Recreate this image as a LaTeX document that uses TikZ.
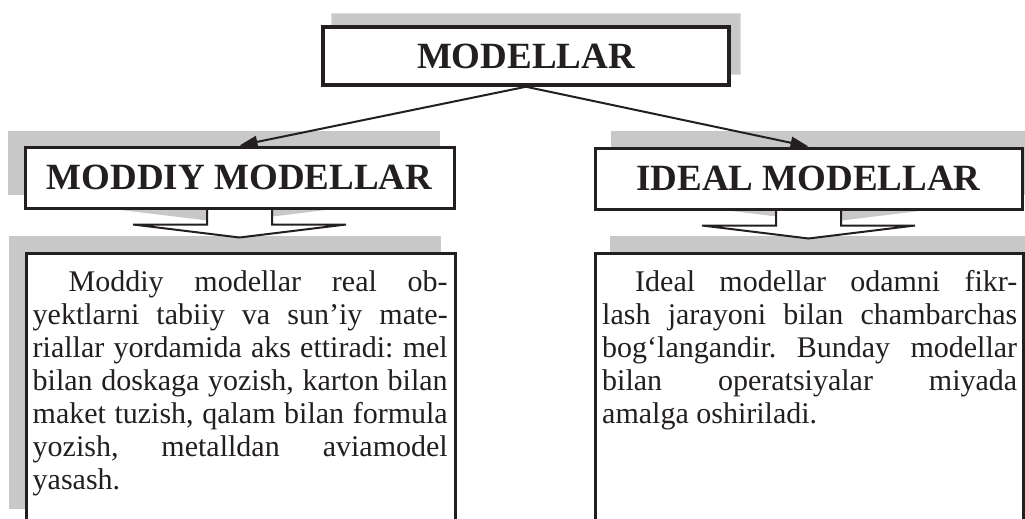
\documentclass[tikz,border=0pt]{standalone}
\usepackage{fontspec}
\setmainfont{Liberation Serif}
\usetikzlibrary{arrows.meta,backgrounds}
\definecolor{ink}{RGB}{35,31,32}
\definecolor{shadowgray}{RGB}{200,200,200}
\definecolor{shadowedge}{RGB}{222,222,222}
\newcommand{\bodyset}{\frenchspacing\hyphenpenalty=10000 \tolerance=9999 \hbadness=10000 }

\begin{document}
\begin{tikzpicture}[x=1pt, y=-1pt,
		titlebox/.style={draw=ink, line width=3pt, fill=white, text=ink, inner sep=0pt,
			minimum height=61pt, font=\bfseries\fontsize{37}{40}\selectfont},
		framebox/.style={draw=ink, line width=2.5pt, fill=white, minimum height=270pt, anchor=north west},
		bodytext/.style={text=ink, text width=415pt, align=justify, inner sep=0pt, anchor=north west,
			font=\fontsize{30}{33}\selectfont},
		link/.style={draw=ink, line width=2pt, -{Triangle[length=18pt,width=12pt]}},
		blockarrow/.style={draw=ink, line width=2pt, fill=white}]
			\clip (0,0) rectangle (1025,519);
			% title boxes
			\node[titlebox, line width=3.5pt, minimum width=406pt, minimum height=58pt] (main) at (526,56) {MODELLAR};
			\node[titlebox, minimum width=429pt] (moddiy) at (239.5,177.5) {MODDIY MODELLAR};
			\node[titlebox, minimum width=427pt] (ideal) at (808.5,178.5) {IDEAL MODELLAR};
			% text frames
			\node[framebox, minimum width=429pt] (mframe) at (25,252) {};
			\node[framebox, minimum width=428pt] (iframe) at (594,252) {};
			\node[bodytext] (mtext) at ([shift={(7.5,18)}]mframe.north west) {\bodyset\hspace*{36pt}Moddiy modellar real ob-\linebreak yektlarni tabiiy va sun’iy mate-\linebreak riallar yordamida aks ettiradi: mel\linebreak bilan doskaga yozish, karton bilan\linebreak maket tuzish, qalam bilan formula\linebreak yozish, metalldan aviamodel\linebreak yasash.};
			\node[bodytext] (itext) at ([shift={(8,18)}]iframe.north west) {\bodyset\hspace*{33pt}Ideal modellar odamni fikr-\linebreak lash jarayoni bilan chambarchas\linebreak bog‘langandir. Bunday modellar\linebreak bilan operatsiyalar miyada\linebreak amalga oshiriladi.};
			% connectors
			\draw[link] (main.south) -- (moddiy.north);
			\draw[link] (main.south) -- (ideal.north);
			\begin{scope}[on background layer]
				% shadows
				\filldraw[fill=shadowgray, draw=shadowedge, line width=1pt] ([shift={(10,-12)}]main.south west) rectangle ([shift={(10,-12)}]main.north east);
				\fill[shadowgray] ([shift={(-16,-15)}]moddiy.south west) rectangle ([shift={(-16,-15)}]moddiy.north east);
				\fill[shadowgray] ([shift={(17,-16)}]ideal.south west) rectangle ([shift={(17,-16)}]ideal.north east);
				\fill[shadowgray] ([shift={(-16,-16)}]mframe.south west) rectangle ([shift={(-16,-16)}]mframe.north east);
				\fill[shadowgray] ([shift={(16,-16)}]iframe.south west) rectangle ([shift={(16,-16)}]iframe.north east);
				% block arrows below the titles
				\foreach \n/\dx/\dy in {moddiy/-16/-15, ideal/17/-16} {
					\fill[shadowgray] ([shift={(-32.5+\dx,-3+\dy)}]\n.south) -- ++(0,18) -- ++(-74,0) -- ++(106.5,13) -- ++(106.5,-13) -- ++(-74,0) -- ++(0,-18) -- cycle;
					\draw[blockarrow] ([shift={(-32.5,-3)}]\n.south) -- ++(0,18) -- ++(-74,0) -- ++(106.5,13) -- ++(106.5,-13) -- ++(-74,0) -- ++(0,-18);
				}
			\end{scope}
\end{tikzpicture}
\end{document}
